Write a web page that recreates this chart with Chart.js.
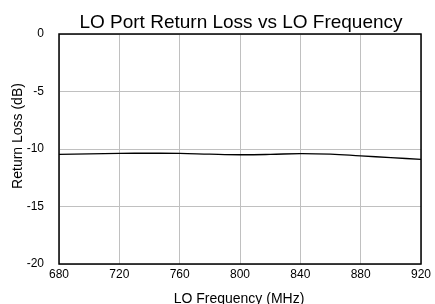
<!DOCTYPE html>
<html>
<head>
<meta charset="utf-8">
<script src="https://cdn.jsdelivr.net/npm/chart.js@4.4.0/dist/chart.umd.min.js"></script>
<style>
  html, body { margin: 0; padding: 0; background: #fff; }
  #wrap { width: 435px; height: 304px; }
</style>
</head>
<body>
<div id="wrap"><canvas id="myChart" width="435" height="304"></canvas></div>
<script>
// LO frequency (MHz) and measured return loss (dB)
const freqs = [680, 700, 720, 740, 760, 780, 800, 820, 840, 860, 880, 900, 920];
const returnLoss = [-10.46, -10.42, -10.38, -10.37, -10.38, -10.45, -10.5, -10.47, -10.4, -10.45, -10.6, -10.75, -10.9];
const xTicks = [680, 720, 760, 800, 840, 880, 920];
const yTicks = [0, -5, -10, -15, -20];

const font = "'Liberation Sans', Arial, sans-serif";

// Black frame around the plot area plus the titles, placed like the original
const frame = {
    id: 'frame',
    afterDatasetsDraw(chart) {
        const a = chart.chartArea;
        const c = chart.ctx;
        c.save();
        c.strokeStyle = '#000';
        c.lineWidth = 1.5;
        c.strokeRect(a.left, a.top, a.right - a.left, a.bottom - a.top);

        c.fillStyle = '#000';
        c.textAlign = 'center';
        c.textBaseline = 'alphabetic';
        c.font = '19px ' + font;
        c.fillText('LO Port Return Loss vs LO Frequency', 241, 28);
        c.font = '14px ' + font;
        c.fillText('LO Frequency (MHz)', 239, 303);

        c.translate(22, 136);
        c.rotate(-Math.PI / 2);
        c.fillText('Return Loss (dB)', 0, 0);
        c.restore();
    }
};

const ctx = document.getElementById('myChart').getContext('2d');
const chart = new Chart(ctx, {
    type: 'line',
    data: {
        datasets: [{
            data: freqs.map((f, i) => ({ x: f, y: returnLoss[i] })),
            borderColor: '#000',
            borderWidth: 1.3,
            pointRadius: 0,
            tension: 0.4,
            fill: false
        }]
    },
    options: {
        responsive: false,
        animation: false,
        layout: { padding: { left: 0, right: 14, top: 34, bottom: 0 } },
        plugins: {
            legend: { display: false },
            tooltip: { enabled: false },
            title: { display: false }
        },
        scales: {
            x: {
                type: 'linear',
                min: 680,
                max: 920,
                afterBuildTicks: (axis) => { axis.ticks = xTicks.map(v => ({ value: v })); },
                afterFit: (axis) => { axis.height = 40; },
                ticks: { color: '#000', font: { family: font, size: 12 }, padding: 3, maxRotation: 0 },
                grid: { color: '#c0c0c0', lineWidth: 1, drawTicks: false },
                border: { display: false }
            },
            y: {
                min: -20,
                max: 0,
                afterBuildTicks: (axis) => { axis.ticks = yTicks.map(v => ({ value: v })); },
                afterFit: (axis) => { axis.width = 59; },
                ticks: { color: '#000', font: { family: font, size: 12 }, padding: 15 },
                grid: { color: '#c0c0c0', lineWidth: 1, drawTicks: false },
                border: { display: false }
            }
        }
    },
    plugins: [frame]
});
</script>
</body>
</html>
